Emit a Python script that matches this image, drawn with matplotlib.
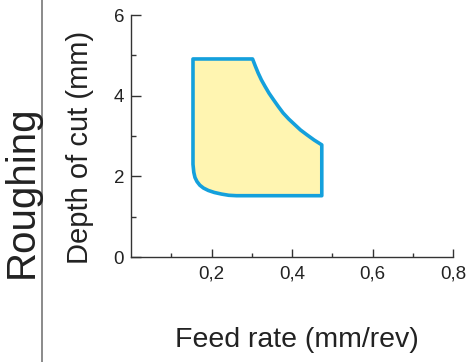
import matplotlib.pyplot as plt
from matplotlib.patches import Polygon
import numpy as np

# boundary of the roughing window (feed mm/rev, depth mm)
feed = [0.154, 0.302, 0.309, 0.316, 0.324, 0.333, 0.343, 0.354, 0.366, 0.378,
        0.392, 0.407, 0.421, 0.437, 0.455, 0.474, 0.474,
        0.262, 0.243, 0.225, 0.207, 0.192, 0.180, 0.171, 0.164, 0.159, 0.156,
        0.154]
depth = [4.91, 4.91, 4.73, 4.56, 4.39, 4.23, 4.06, 3.90, 3.73, 3.57,
         3.42, 3.28, 3.15, 3.03, 2.90, 2.78, 1.52,
         1.52, 1.53, 1.56, 1.60, 1.65, 1.71, 1.78, 1.87, 1.97, 2.10,
         2.30]

x_major = [0.2, 0.4, 0.6, 0.8]
x_labels = ['0,2', '0,4', '0,6', '0,8']
x_minor = [0.1, 0.3, 0.5, 0.7]
y_major = [0, 2, 4, 6]
y_minor = [1, 3, 5]

plt.rcParams['font.family'] = ['Liberation Sans', 'DejaVu Sans']

fig = plt.figure(figsize=(4.69, 3.62), dpi=100)
ax = fig.add_axes([131 / 469, 1 - 257 / 362, 322 / 469, 242 / 362])

ax.add_patch(Polygon(np.column_stack([feed, depth]), closed=True,
                     facecolor='#fff5b1', edgecolor='#14a0dc', lw=2.6,
                     joinstyle='round'))

ax.set_xlim(0, 0.8)
ax.set_ylim(0, 6)
ax.set_xticks(x_major)
ax.set_xticklabels(x_labels)
ax.set_xticks(x_minor, minor=True)
ax.set_yticks(y_major)
ax.set_yticks(y_minor, minor=True)

for s in ['top', 'right']:
    ax.spines[s].set_visible(False)
for s in ['left', 'bottom']:
    ax.spines[s].set_color('#333333')
    ax.spines[s].set_linewidth(1.0)

ax.tick_params(which='both', direction='in', color='#333333', width=1.0,
               labelsize=13.5, labelcolor='#222222')
ax.tick_params(axis='y', which='major', length=7, pad=5)
ax.tick_params(axis='y', which='minor', length=3.5)
ax.tick_params(axis='x', which='major', length=6, pad=6)
ax.tick_params(axis='x', which='minor', length=3)

ax.set_xlabel('Feed rate (mm/rev)', fontsize=20.5, color='#222222', va='center')
ax.xaxis.set_label_coords(0.514, -0.343)
ax.set_ylabel('Depth of cut (mm)', fontsize=21, color='#222222', va='center')
ax.yaxis.set_label_coords(-0.158, 0.452)

fig.text(22 / 469, 1 - 192 / 362, 'Roughing', rotation=90, fontsize=29,
         color='#222222', ha='center', va='center')
fig.add_artist(plt.Line2D([42 / 469, 42 / 469], [0, 1], color='#777777', lw=1.2))

fig.savefig('out.png', dpi=100)
